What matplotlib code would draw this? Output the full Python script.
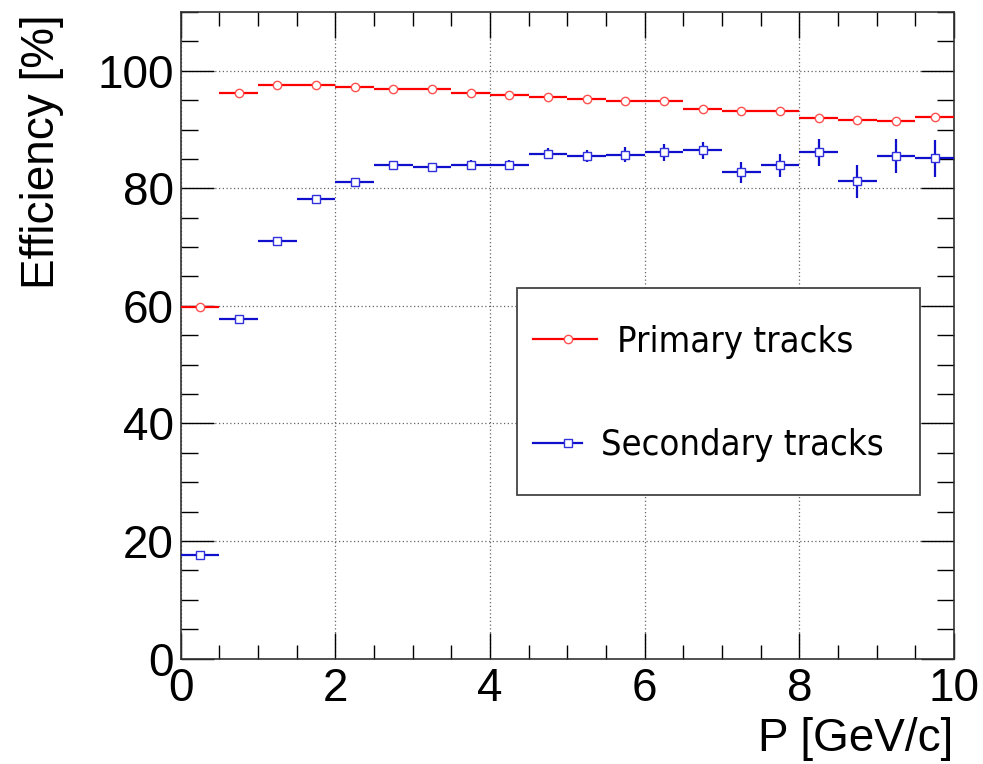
import matplotlib
matplotlib.use("Agg")
import matplotlib.pyplot as plt
from matplotlib.ticker import MultipleLocator
from matplotlib.patches import Rectangle
from matplotlib.lines import Line2D

# ---- data ----
p_centers = [0.25, 0.75, 1.25, 1.75, 2.25, 2.75, 3.25, 3.75, 4.25, 4.75,
             5.25, 5.75, 6.25, 6.75, 7.25, 7.75, 8.25, 8.75, 9.25, 9.75]
p_halfwidth = [0.25] * 20

primary_eff = [59.8, 96.3, 97.5, 97.5, 97.2, 96.9, 96.9, 96.3, 95.9, 95.5,
               95.2, 94.9, 94.8, 93.5, 93.1, 93.1, 92.0, 91.6, 91.5, 92.2]
primary_err = [0.6, 0.3, 0.2, 0.2, 0.2, 0.2, 0.2, 0.2, 0.2, 0.2,
               0.2, 0.2, 0.3, 0.3, 0.3, 0.3, 0.3, 0.3, 0.3, 0.3]

secondary_eff = [17.6, 57.8, 71.1, 78.1, 81.0, 83.9, 83.6, 84.0, 84.0, 85.9,
                 85.5, 85.7, 86.1, 86.5, 82.7, 83.9, 86.1, 81.2, 85.5, 85.1]
secondary_err = [0.5, 0.6, 0.6, 0.6, 0.6, 0.6, 0.6, 0.85, 0.85, 0.95,
                 1.1, 1.25, 1.4, 1.45, 1.85, 2.0, 2.3, 2.8, 2.9, 3.2]

x_ticks = [0, 2, 4, 6, 8, 10]
y_ticks = [0, 20, 40, 60, 80, 100]

RED = "#ff0000"
BLUE = "#1010cc"
TICKFONT = "Liberation Sans"

fig = plt.figure(figsize=(9.83, 7.64), dpi=100)
ax = fig.add_axes([180.5 / 983, 1 - 658.5 / 764, 773.5 / 983, 646.5 / 764])

ax.errorbar(p_centers, primary_eff, xerr=p_halfwidth, yerr=primary_err,
            fmt="o", color=RED, ecolor=RED, elinewidth=1.6, capsize=0,
            markersize=6, markerfacecolor="white", markeredgecolor="#ff5050",
            markeredgewidth=1.0, zorder=3)
ax.errorbar(p_centers, secondary_eff, xerr=p_halfwidth, yerr=secondary_err,
            fmt="s", color=BLUE, ecolor=BLUE, elinewidth=1.6, capsize=0,
            markersize=5.5, markerfacecolor="white", markeredgecolor="#3030dd",
            markeredgewidth=1.0, zorder=3)

ax.set_xlim(0, 10)
ax.set_ylim(0, 110)
ax.set_xticks(x_ticks)
ax.set_yticks(y_ticks)
ax.set_xticklabels([str(v) for v in x_ticks], fontfamily=TICKFONT, fontsize=33)
ax.set_yticklabels([str(v) for v in y_ticks], fontfamily=TICKFONT, fontsize=33)
ax.xaxis.set_minor_locator(MultipleLocator(0.5))
ax.yaxis.set_minor_locator(MultipleLocator(5))
ax.tick_params(which="both", direction="in", top=True, right=True, color="black", width=1.0)
ax.tick_params(which="major", axis="x", length=19, pad=6)
ax.tick_params(which="minor", axis="x", length=10)
ax.tick_params(which="major", axis="y", length=24, pad=5)
ax.tick_params(which="minor", axis="y", length=12)
ax.grid(True, which="major", linestyle=(0, (1, 2)), color="#666666", linewidth=0.9)
ax.set_axisbelow(True)
for s in ax.spines.values():
    s.set_linewidth(1.2)
    s.set_color("#333333")

fig.text(42 / 983, 1 - 14 / 764, "Efficiency [%]", rotation=90, ha="center", va="top",
         fontfamily=TICKFONT, fontsize=33)
fig.text(953 / 983, 13 / 764, "P [GeV/c]", ha="right", va="baseline",
         fontfamily=TICKFONT, fontsize=33)

# ---- legend ----
tr = ax.transAxes
def ax_x(px):
    return (px - 180.5) / 773.5
def ax_y(py):
    return (658.5 - py) / 646.5

ax.add_patch(Rectangle((ax_x(517), ax_y(495)), ax_x(920) - ax_x(517), ax_y(288) - ax_y(495),
                       transform=tr, facecolor="white", edgecolor="#444444", linewidth=1.3,
                       zorder=5))
ax.add_line(Line2D([ax_x(533), ax_x(597)], [ax_y(339), ax_y(339)], transform=tr,
                   color=RED, linewidth=1.6, zorder=6))
ax.add_line(Line2D([ax_x(568)], [ax_y(339)], transform=tr, marker="o", markersize=6,
                   markerfacecolor="white", markeredgecolor="#ff5050", markeredgewidth=1.0,
                   zorder=7))
ax.add_line(Line2D([ax_x(533), ax_x(582)], [ax_y(443), ax_y(443)], transform=tr,
                   color=BLUE, linewidth=1.6, zorder=6))
ax.add_line(Line2D([ax_x(568)], [ax_y(443)], transform=tr, marker="s", markersize=5.5,
                   markerfacecolor="white", markeredgecolor="#3030dd", markeredgewidth=1.0,
                   zorder=7))
ax.text(ax_x(617), ax_y(352), "Primary tracks", transform=tr, ha="left", va="baseline",
        fontfamily="DejaVu Sans", fontstretch="condensed", fontsize=26, zorder=8)
ax.text(ax_x(601), ax_y(455), "Secondary tracks", transform=tr, ha="left", va="baseline",
        fontfamily="DejaVu Sans", fontstretch="condensed", fontsize=26, zorder=8)

fig.savefig("out.png", dpi=100)
